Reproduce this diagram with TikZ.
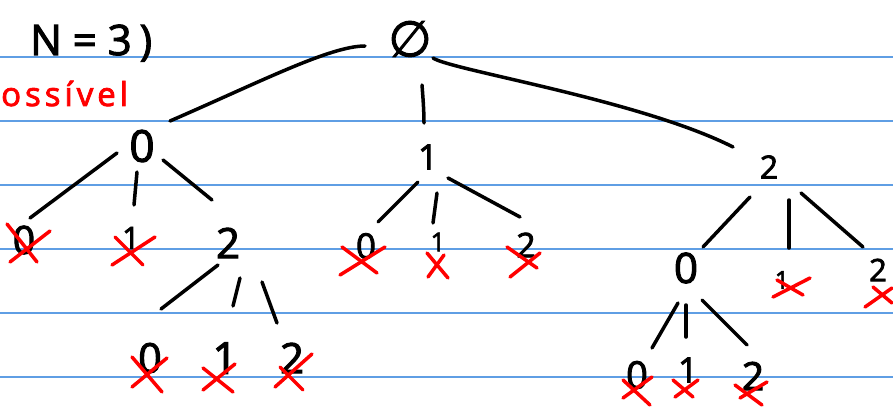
\documentclass[tikz,border=0pt]{standalone}
\usepackage{fontspec}
\setmainfont{Open Sans}
\newfontfamily\symfont[FakeBold=2]{DejaVu Sans}
\newfontfamily\handfont[FakeBold=2.5]{Open Sans}
\usetikzlibrary{calc}
\definecolor{paperline}{RGB}{95,158,228}
\definecolor{ink}{RGB}{0,0,0}
\definecolor{xred}{RGB}{255,0,0}
\begin{document}
\begin{tikzpicture}[x=1pt,y=-1pt,
  edge/.style={line width=3.5pt, line cap=round, line join=round, draw=ink},
  cross/.style={line width=3.5pt, line cap=round, draw=xred},
  dig/.style={inner sep=0pt, text=ink, font=\handfont\fontsize{#1}{#1}\selectfont},
  ruling/.style={draw=paperline, line width=1.3pt}]
% page
\fill[white] (0,0) rectangle (893,409);
\useasboundingbox (0,0) rectangle (893,409);
\foreach \yy in {57,121,185,249,313,377}
  \draw[ruling] (0,\yy) -- (893,\yy);

% headings
\node[anchor=base west, inner sep=0pt, text=ink, font=\handfont\fontsize{42}{42}\selectfont] (title) at (30,55) {N = 3\hspace{8pt})};
\node[anchor=base west, inner sep=0pt, text=xred, font=\handfont\fontsize{33}{33}\selectfont\addfontfeature{LetterSpace=12}] (note) at (1,106) {ossível};

% root
\node[inner sep=0pt, text=ink, font=\symfont\fontsize{50}{50}\selectfont] (R) at (410,39) {∅};

% level 1
\node[dig=44] (A0) at (142,146) {0};
\node[dig=35] (A1) at (428,157) {1};
\node[dig=32] (A2) at (769,167) {2};

% level 2
\node[dig=39] (B00) at (24,240) {0};
\node[dig=31] (B01) at (131,238) {1};
\node[dig=42] (B02) at (228,243) {2};
\node[dig=35] (B10) at (366,246) {0};
\node[dig=26] (B11) at (438,242) {1};
\node[dig=34] (B12) at (526,245) {2};
\node[dig=42] (B20) at (686,268) {0};
\node[dig=25] (B21) at (782,280) {1};
\node[dig=31] (B22) at (878,270) {2};

% level 3
\node[dig=41] (C020) at (150,358) {0};
\node[dig=44] (C021) at (225,358) {1};
\node[dig=42] (C022) at (292,358) {2};
\node[dig=38] (C200) at (637,375) {0};
\node[dig=35] (C201) at (688,370) {1};
\node[dig=39] (C202) at (753,376) {2};

% branches from the root
\draw[edge] ($(R)+(-45,7)$) .. controls ($(R)+(-80,7)$) and ($(A0)+(118,-64)$) .. ($(A0)+(28,-25)$);
\draw[edge] ($(R)+(12,46)$) .. controls ($(R)+(13,59)$) and ($(A1)+(-4,-46)$) .. ($(A1)+(-4,-34)$);
\draw[edge] ($(R)+(23,19)$) .. controls ($(R)+(40,31)$) and ($(A2)+(-129,-67)$) .. ($(A2)+(-36,-20)$);

% branches below 0
\draw[edge] ($(A0)+(-25,7)$) -- ($(B00)+(6,-22)$);
\draw[edge] ($(A0)+(-5,26)$) -- ($(B01)+(3,-33)$);
\draw[edge] ($(A0)+(21,14)$) -- ($(B02)+(-16,-43)$);
\draw[edge] ($(B02)+(-10,22)$) -- ($(C020)+(11,-49)$);
\draw[edge] ($(B02)+(12,35)$) -- ($(C021)+(8,-52)$);
\draw[edge] ($(B02)+(34,39)$) -- ($(C022)+(-15,-35)$);

% branches below 1
\draw[edge] ($(A1)+(-10,25)$) -- ($(B10)+(12,-24)$);
\draw[edge] ($(A1)+(9,36)$) -- ($(B11)+(-5,-19)$);
\draw[edge] ($(A1)+(20,21)$) -- ($(B12)+(-6,-28)$);

% branches below 2
\draw[edge] ($(A2)+(-19,30)$) -- ($(B20)+(17,-21)$);
\draw[edge] ($(A2)+(20,33)$) -- ($(B21)+(7,-32)$);
\draw[edge] ($(A2)+(32,26)$) -- ($(B22)+(-15,-23)$);
\draw[edge] ($(B20)+(-8,35)$) -- ($(C200)+(15,-27)$);
\draw[edge] ($(B20)+(0,37)$) -- ($(C201)+(-2,-33)$);
\draw[edge] ($(B20)+(16,32)$) -- ($(C202)+(-6,-31)$);

% crossed-out leaves
\draw[cross] ($(B00)+(-17,-16)$) -- ($(B00)+(13,22)$);
\draw[cross] ($(B00)+(26,-9)$) -- ($(B00)+(-14,22)$);
\draw[cross] ($(B01)+(-19,27)$) -- ($(B01)+(24,-1)$);
\draw[cross] ($(B01)+(-16,-1)$) -- ($(B01)+(12,27)$);
\draw[cross] ($(C020)+(-18,-1)$) -- ($(C020)+(12,34)$);
\draw[cross] ($(C020)+(17,0)$) -- ($(C020)+(-18,29)$);
\draw[cross] ($(C021)+(-22,10)$) -- ($(C021)+(8,34)$);
\draw[cross] ($(C021)+(-22,32)$) -- ($(C021)+(10,6)$);
\draw[cross] ($(C022)+(-12,9)$) -- ($(C022)+(11,32)$);
\draw[cross] ($(C022)+(20,-4)$) -- ($(C022)+(-17,29)$);
\draw[cross] ($(B10)+(-24,1)$) -- ($(B10)+(11,27)$);
\draw[cross] ($(B10)+(19,1)$) -- ($(B10)+(-26,29)$);
\draw[cross] ($(B11)+(-11,11)$) -- ($(B11)+(10,36)$);
\draw[cross] ($(B11)+(6,13)$) -- ($(B11)+(-10,35)$);
\draw[cross] ($(B12)+(-19,2)$) -- ($(B12)+(11,23)$);
\draw[cross] ($(B12)+(14,8)$) -- ($(B12)+(-16,32)$);
\draw[cross] ($(B21)+(-5,0)$) -- ($(B21)+(21,15)$);
\draw[cross] ($(B21)+(28,-2)$) -- ($(B21)+(-9,17)$);
\draw[cross] ($(B22)+(-5,17)$) -- ($(B22)+(14,33)$);
\draw[cross] ($(B22)+(14,18)$) -- ($(B22)+(-13,37)$);
\draw[cross] ($(C200)+(-14,5)$) -- ($(C200)+(13,30)$);
\draw[cross] ($(C200)+(15,2)$) -- ($(C200)+(-14,23)$);
\draw[cross] ($(C201)+(-15,10)$) -- ($(C201)+(5,27)$);
\draw[cross] ($(C201)+(10,10)$) -- ($(C201)+(-13,27)$);
\draw[cross] ($(C202)+(-18,9)$) -- ($(C202)+(9,29)$);
\draw[cross] ($(C202)+(14,6)$) -- ($(C202)+(-13,22)$);
\end{tikzpicture}
\end{document}
